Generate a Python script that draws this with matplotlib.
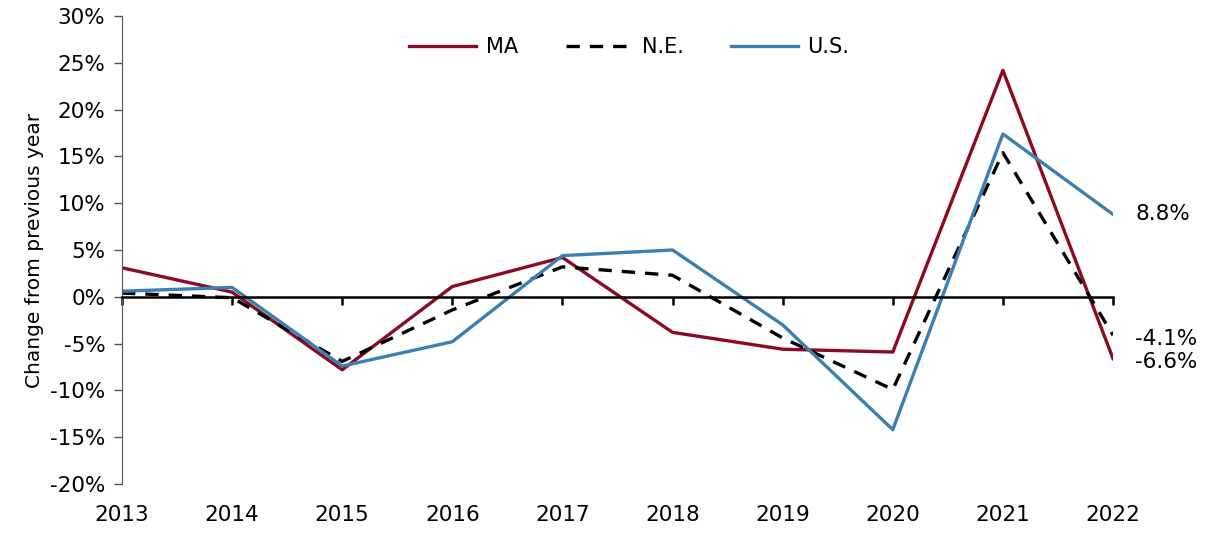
import matplotlib
matplotlib.use("Agg")
import matplotlib.pyplot as plt
from matplotlib.ticker import FuncFormatter

years = ["2013", "2014", "2015", "2016", "2017", "2018", "2019", "2020", "2021", "2022"]
ma = [3.1, 0.5, -7.8, 1.1, 4.2, -3.8, -5.6, -5.9, 24.2, -6.6]
ne = [0.4, -0.1, -6.9, -1.4, 3.2, 2.3, -4.4, -9.9, 15.4, -4.1]
us = [0.6, 1.0, -7.4, -4.8, 4.4, 5.0, -3.0, -14.2, 17.4, 8.8]
end_labels = ["-6.6%", "-4.1%", "8.8%"]

plt.rcParams['font.family'] = ['DejaVu Sans']

fig = plt.figure(figsize=(12.12, 5.33), dpi=100)
ax = fig.add_axes([122/1212, 1 - 484/533, (1113-122)/1212, (484-16)/533])

x = list(range(len(years)))
ax.plot(x, ma, color="#8B0A24", lw=2.4, label="MA")
ax.plot(x, ne, color="black", lw=2.4, ls=(0, (4, 3)), label="N.E.")
ax.plot(x, us, color="#3A80B2", lw=2.4, label="U.S.")

ax.set_xlim(0, len(years) - 1)
ax.set_ylim(-20, 30)
ax.set_yticks(range(-20, 31, 5))
ax.yaxis.set_major_formatter(FuncFormatter(lambda v, p: f"{int(v)}%"))
ax.tick_params(axis='y', labelsize=15.5, length=6, width=1, color="#555555", direction='out', pad=6)

ax.spines['top'].set_visible(False)
ax.spines['right'].set_visible(False)
ax.spines['left'].set_color("#555555")
ax.spines['bottom'].set_position(('data', 0))
ax.spines['bottom'].set_linewidth(1.8)
ax.set_xticks(x)
ax.set_xticklabels([])
ax.tick_params(axis='x', length=6, width=1.8, direction='out')
for xi, lab in zip(x, years):
    ax.text(xi, -0.045, lab, transform=ax.get_xaxis_transform(), ha='center', va='top', fontsize=15.5)

ax.set_ylabel("Change from previous year", fontsize=14.5, labelpad=4)

ax.text(len(years) - 1 + 0.2, us[-1], end_labels[2], ha='left', va='center', fontsize=15.5)
ax.text(len(years) - 1 + 0.2, ne[-1] - 0.4, end_labels[1], ha='left', va='center', fontsize=15.5)
ax.text(len(years) - 1 + 0.2, ma[-1] - 0.4, end_labels[0], ha='left', va='center', fontsize=15.5)

ax.legend(loc='upper center', bbox_to_anchor=(0.512, 0.995), ncol=3, frameon=False,
          fontsize=15, handlelength=3.2, columnspacing=2.3, handletextpad=0.45)

fig.savefig("out.png", dpi=100)
